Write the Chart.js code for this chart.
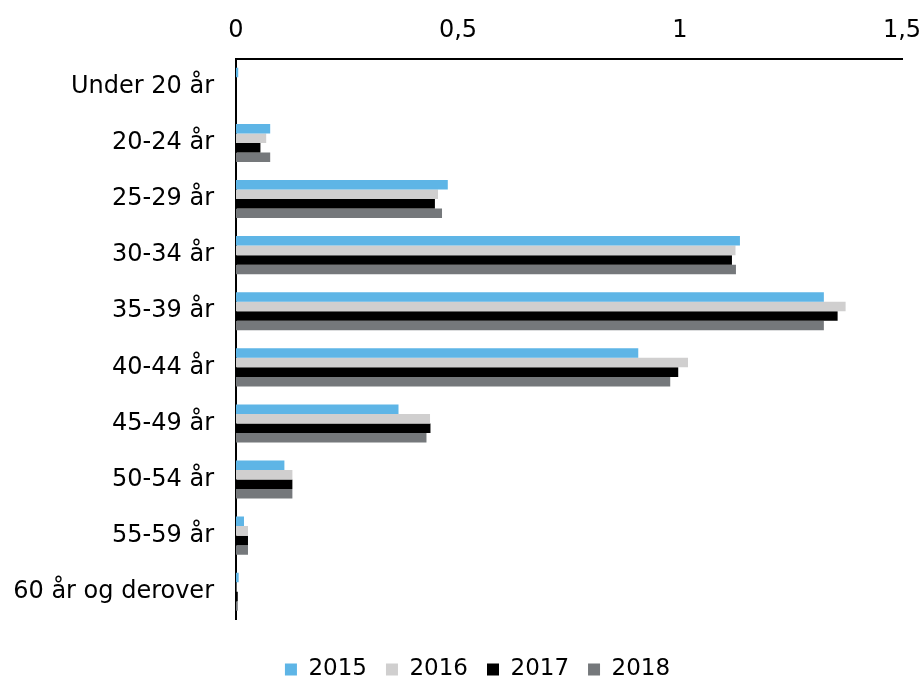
<!DOCTYPE html>
<html>
<head>
<meta charset="utf-8">
<script src="https://cdn.jsdelivr.net/npm/chart.js@4"></script>
<style>
  html, body { margin: 0; padding: 0; background: #fff; }
  #wrap { width: 923px; height: 681px; }
</style>
</head>
<body>
<div id="wrap"><canvas id="ageChart" width="923" height="681"></canvas></div>
<script>
// DATA
const categories = ['Under 20 år', '20-24 år', '25-29 år', '30-34 år', '35-39 år',
                    '40-44 år', '45-49 år', '50-54 år', '55-59 år', '60 år og derover'];
const years      = ['2015', '2016', '2017', '2018'];
const values2015 = [0.005, 0.077, 0.477, 1.135, 1.324, 0.906, 0.366, 0.109, 0.018, 0.006];
const values2016 = [0.000, 0.068, 0.455, 1.125, 1.373, 1.018, 0.437, 0.127, 0.027, 0.001];
const values2017 = [0.000, 0.055, 0.448, 1.117, 1.355, 0.996, 0.438, 0.127, 0.027, 0.004];
const values2018 = [0.000, 0.077, 0.464, 1.126, 1.324, 0.978, 0.429, 0.127, 0.027, 0.004];
const xTicks     = [0, 0.5, 1, 1.5];

const colors = ['#5eb5e6', '#d0cfcf', '#000000', '#75787b'];
const seriesValues = [values2015, values2016, values2017, values2018];

const tickFont   = { family: '"DejaVu Sans", Verdana, sans-serif', size: 24 };
const legendFont = { family: '"DejaVu Sans", Verdana, sans-serif', size: 23 };

// nudge the legend a bit right, like the original
const legendShift = {
    id: 'legendShift',
    afterLayout(chart) {
        if (chart.legend) {
            chart.legend.left += 16;
            chart.legend.right += 16;
        }
    }
};

new Chart(document.getElementById('ageChart').getContext('2d'), {
    type: 'bar',
    data: {
        labels: categories,
        datasets: years.map((y, i) => ({
            label: y,
            data: seriesValues[i],
            backgroundColor: colors[i],
            borderWidth: 0,
            categoryPercentage: 0.68,
            barPercentage: 1
        }))
    },
    plugins: [legendShift],
    options: {
        indexAxis: 'y',
        responsive: false,
        animation: false,
        layout: { padding: { left: 0, right: 0, top: 2, bottom: -10 } },
        plugins: {
            legend: {
                position: 'bottom',
                title: { display: true, text: '', font: { size: 1 }, padding: { top: 18, bottom: 0 } },
                labels: {
                    font: legendFont,
                    color: '#000',
                    boxWidth: 12,
                    boxHeight: 12,
                    padding: 19
                }
            },
            tooltip: { enabled: false }
        },
        scales: {
            x: {
                position: 'top',
                min: 0,
                max: 1.5,
                afterBuildTicks: axis => { axis.ticks = xTicks.map(v => ({ value: v })); },
                afterFit: axis => { axis.paddingRight = 21; axis.paddingLeft = 0; },
                grid: { display: false, drawTicks: false },
                border: { display: true, color: '#000', width: 2 },
                ticks: {
                    font: tickFont,
                    color: '#000',
                    padding: 14,
                    callback: v => String(v).replace('.', ',')
                }
            },
            y: {
                afterFit: axis => { axis.width = 236; },
                grid: { display: false, drawTicks: false },
                border: { display: true, color: '#000', width: 2 },
                ticks: { font: tickFont, color: '#000', padding: 22 }
            }
        }
    }
});
</script>
</body>
</html>
